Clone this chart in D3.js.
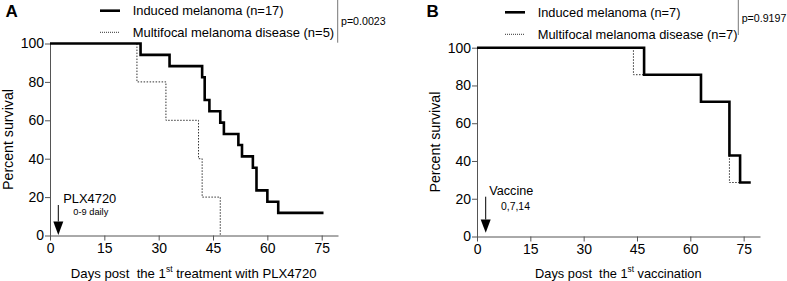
<!DOCTYPE html>
<html><head><meta charset="utf-8">
<script src="https://cdn.jsdelivr.net/npm/d3@7"></script>
<style>
html,body{margin:0;padding:0;background:#fff;}
svg text{font-family:"Liberation Sans",Arial,Helvetica,sans-serif;fill:#000;white-space:pre;}
</style></head>
<body><svg id="chart" width="787" height="281"></svg>
<script>
// ---- data ----
const xTicks = [0, 15, 30, 45, 60, 75];
const yTicks = [0, 20, 40, 60, 80, 100];

const aInducedDays = [0, 25, 33, 42, 42.7, 44, 47, 48, 52, 53, 56, 57, 60, 63, 75.5];
const aInducedSurv = [100, 94.1, 88.2, 82.4, 70.6, 64.7, 58.8, 52.9, 47.1, 41.2, 35.3, 23.5, 17.6, 11.8, 11.8];
const aMultiDays = [0, 24, 32, 41, 42, 47];
const aMultiSurv = [100, 80, 60, 40, 20, 0];

const bInducedDays = [0, 47, 63, 71, 74, 77];
const bInducedSurv = [100, 85.7, 71.4, 42.9, 28.6, 28.6];
const bMultiDays = [0, 44, 63, 71, 74];
const bMultiSurv = [100, 85.7, 71.4, 28.6, 28.6];

const panels = [
  {letter:"A", lx:5.5, ly:16.5,
   x0:50, x1:338, xmax:79.5, y0:235.5, y1:43.5,
   induced:[aInducedDays, aInducedSurv], multi:[aMultiDays, aMultiSurv],
   leg1:"Induced melanoma (n=17)", leg2:"Multifocal melanoma disease (n=5)",
   leg1W:151, leg2W:201.6,
   legX:100, legY1:10.7, legY2:32.3, tb1:14.5, tb2:36.5,
   pLineX:337.7, pLineY:42.7, pText:"p=0.0023", pX:341, pY:25,
   xTitlePre:"Days post  the 1", xTitlePost:" treatment with PLX4720", xTitleX:193.7, xTitleY:278, xTitleW:246,
   yTitleX:12.5,
   arrowX:58.3, arrowTop:205, triTop:221.5, triBot:235, triHalf:5,
   ann1:"PLX4720", ann1x:63.3, ann1y:202.5, ann1W:53, ann2:"0-9 daily", ann2x:73.3, ann2y:214.5, ann2W:35},
  {letter:"B", lx:426.5, ly:17,
   x0:477, x1:760, xmax:79.6, y0:236.5, y1:47.7,
   induced:[bInducedDays, bInducedSurv], multi:[bMultiDays, bMultiSurv],
   leg1:"Induced melanoma (n=7)", leg2:"Multifocal melanoma disease (n=7)",
   leg1W:143, leg2W:200,
   legX:505, legY1:12.3, legY2:34.3, tb1:17, tb2:39,
   pLineX:738.3, pLineY:35, pText:"p=0.9197", pX:741.7, pY:22,
   xTitlePre:"Days post  the 1", xTitlePost:" vaccination", xTitleX:618.3, xTitleY:278, xTitleW:166.7,
   yTitleX:440,
   arrowX:485.7, arrowTop:196.7, triTop:219.5, triBot:232.7, triHalf:5,
   ann1:"Vaccine", ann1x:489.3, ann1y:195, ann1W:44, ann2:"0,7,14", ann2x:501, ann2y:210, ann2W:29}
];

const svg = d3.select("#chart");
const axisColor = "#555";

// scale a text's font-size so that its rendered width matches target
function fit(sel, target) {
  const n = sel.node();
  const fs = parseFloat(sel.attr("font-size"));
  const w = n.getComputedTextLength();
  if (w > 0) {
    const nf = fs * target / w;
    sel.attr("font-size", nf);
    sel.selectAll("tspan").each(function() {
      const t = d3.select(this);
      if (t.attr("font-size")) t.attr("font-size", parseFloat(t.attr("font-size")) * target / w);
    });
  }
  return sel;
}

let tickFont = 14;
// probe tick label width "100" target 23.3
{
  const probe = svg.append("text").attr("font-size", 14).text("100");
  const w = probe.node().getComputedTextLength();
  tickFont = 14 * 23.3 / w;
  probe.remove();
}

panels.forEach(p => {
  const g = svg.append("g");
  const x = d3.scaleLinear().domain([0, p.xmax]).range([p.x0, p.x1]);
  const y = d3.scaleLinear().domain([0, 100]).range([p.y0, p.y1]);

  const xAxis = g.append("g").attr("transform", `translate(0,${p.y0})`)
    .call(d3.axisBottom(x).tickValues(xTicks).tickSize(5).tickPadding(3).tickSizeOuter(0));
  const yAxis = g.append("g").attr("transform", `translate(${p.x0},0)`)
    .call(d3.axisLeft(y).tickValues(yTicks).tickSize(5).tickPadding(1).tickSizeOuter(0));
  [xAxis, yAxis].forEach(ax => {
    ax.attr("font-size", null).attr("font-family", null);
    ax.select(".domain").attr("stroke", axisColor).attr("stroke-width", 1);
    ax.selectAll(".tick line").attr("stroke", axisColor).attr("stroke-width", 1);
    ax.selectAll(".tick text").attr("font-size", tickFont).style("font-size", tickFont + "px").attr("fill", "#000");
  });

  const line = d3.line().x(d => x(d[0])).y(d => y(d[1])).curve(d3.curveStepAfter);
  const pts = arr => arr[0].map((t, i) => [t, arr[1][i]]);

  g.append("path").datum(pts(p.multi)).attr("d", line)
    .attr("fill", "none").attr("stroke", "#333").attr("stroke-width", 1)
    .attr("stroke-dasharray", "1.5,1.5");
  g.append("path").datum(pts(p.induced)).attr("d", line)
    .attr("fill", "none").attr("stroke", "#000").attr("stroke-width", 2.6)
    .attr("stroke-linejoin", "miter").attr("stroke-linecap", "butt");

  g.append("text").attr("x", p.lx).attr("y", p.ly).text(p.letter)
    .attr("font-size", 17).attr("font-weight", "bold");

  g.append("line").attr("x1", p.legX).attr("x2", p.legX + 20).attr("y1", p.legY1).attr("y2", p.legY1)
    .attr("stroke", "#000").attr("stroke-width", 2.6);
  g.append("line").attr("x1", p.legX).attr("x2", p.legX + 20).attr("y1", p.legY2).attr("y2", p.legY2)
    .attr("stroke", "#333").attr("stroke-width", 1).attr("stroke-dasharray", "1,1");
  fit(g.append("text").attr("x", p.legX + 32.7).attr("y", p.tb1).text(p.leg1).attr("font-size", 13), p.leg1W);
  fit(g.append("text").attr("x", p.legX + 32.7).attr("y", p.tb2).text(p.leg2).attr("font-size", 13), p.leg2W);

  g.append("line").attr("x1", p.pLineX).attr("x2", p.pLineX).attr("y1", 0).attr("y2", p.pLineY)
    .attr("stroke", "#777").attr("stroke-width", 1);
  fit(g.append("text").attr("x", p.pX).attr("y", p.pY).text(p.pText).attr("font-size", 10.5), 44.7);

  const xt = g.append("text").attr("x", p.xTitleX).attr("y", p.xTitleY)
    .attr("text-anchor", "middle").attr("font-size", 14);
  xt.append("tspan").text(p.xTitlePre);
  xt.append("tspan").text("st").attr("font-size", 9).attr("dy", -6);
  xt.append("tspan").text(p.xTitlePost).attr("dy", 6);
  fit(xt, p.xTitleW);

  const yt = g.append("text").attr("transform", `translate(${p.yTitleX},${(p.y0 + p.y1) / 2}) rotate(-90)`)
    .attr("text-anchor", "middle").attr("font-size", 14).text("Percent survival");
  fit(yt, 101);

  g.append("line").attr("x1", p.arrowX).attr("x2", p.arrowX).attr("y1", p.arrowTop).attr("y2", p.triTop)
    .attr("stroke", "#000").attr("stroke-width", 1);
  g.append("path")
    .attr("d", `M${p.arrowX - p.triHalf},${p.triTop}L${p.arrowX + p.triHalf},${p.triTop}L${p.arrowX},${p.triBot}Z`)
    .attr("fill", "#000");
  fit(g.append("text").attr("x", p.ann1x).attr("y", p.ann1y).text(p.ann1).attr("font-size", 13), p.ann1W);
  fit(g.append("text").attr("x", p.ann2x).attr("y", p.ann2y).text(p.ann2).attr("font-size", 10), p.ann2W);
});
</script></body></html>
